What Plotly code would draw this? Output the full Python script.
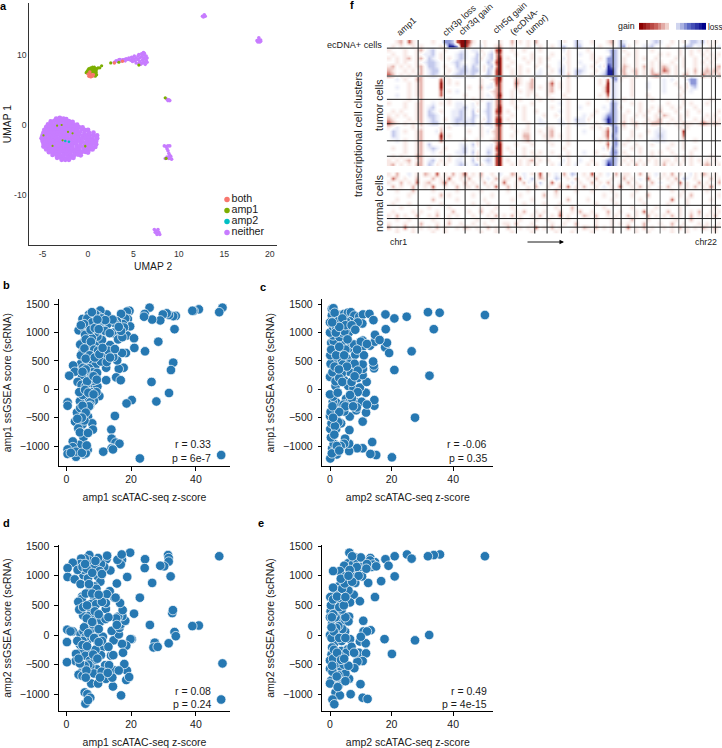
import plotly.graph_objects as go

W, H = 722, 748

# ---------- panel a: UMAP ----------
neither_pts = [
(-3.5,0.9),(-3.1,1.0),(-2.7,0.9),(-2.4,0.85),
(-4.1,0.5),(-3.7,0.6),(-3.3,0.5),(-2.9,0.6),(-2.5,0.5),(-2.1,0.55),(-1.7,0.45),
(-4.4,0.1),(-4.0,0.15),(-3.6,0.05),(-3.2,0.15),(-2.8,0.1),(-2.4,0.05),(-2.0,0.15),(-1.6,0.1),(-1.2,0.05),
(-4.6,-0.3),(-4.2,-0.25),(-3.8,-0.35),(-3.4,-0.3),(-3.0,-0.25),(-2.6,-0.35),(-2.2,-0.3),(-1.8,-0.25),(-1.4,-0.35),(-1.0,-0.3),(-0.6,-0.35),
(-4.8,-0.7),(-4.4,-0.65),(-4.0,-0.75),(-3.6,-0.7),(-3.2,-0.65),(-2.8,-0.75),(-2.4,-0.7),(-2.0,-0.65),(-1.6,-0.75),(-1.2,-0.7),(-0.7,-0.65),(-0.3,-0.75),(0.0,-0.7),
(-4.9,-1.1),(-4.5,-1.05),(-4.1,-1.15),(-3.7,-1.1),(-3.3,-1.05),(-2.9,-1.15),(-2.5,-1.1),(-2.1,-1.05),(-1.7,-1.15),(-1.3,-1.1),(-0.9,-1.05),(-0.4,-1.15),(0.1,-1.1),(0.6,-1.1),
(-5.0,-1.5),(-4.6,-1.45),(-4.2,-1.55),(-3.8,-1.5),(-3.4,-1.45),(-3.0,-1.55),(-2.6,-1.5),(-2.2,-1.45),(-1.8,-1.55),(-1.4,-1.5),(-1.0,-1.45),(-0.6,-1.55),(-0.2,-1.5),(0.2,-1.45),(0.6,-1.55),(1.0,-1.5),
(-5.1,-1.9),(-4.7,-1.85),(-4.3,-1.95),(-3.9,-1.9),(-3.5,-1.85),(-3.1,-1.95),(-2.7,-1.9),(-2.3,-1.85),(-1.9,-1.95),(-1.5,-1.9),(-1.1,-1.85),(-0.7,-1.95),(-0.3,-1.9),(0.1,-1.85),(0.5,-1.95),(1.0,-1.9),
(-5.0,-2.3),(-4.6,-2.25),(-4.2,-2.35),(-3.8,-2.3),(-3.4,-2.25),(-3.0,-2.35),(-2.6,-2.3),(-2.2,-2.25),(-1.8,-2.35),(-1.4,-2.3),(-1.0,-2.25),(-0.6,-2.35),(-0.1,-2.3),(0.3,-2.25),(0.7,-2.35),(0.9,-2.3),
(-4.9,-2.7),(-4.5,-2.65),(-4.1,-2.75),(-3.7,-2.7),(-3.3,-2.65),(-2.9,-2.75),(-2.5,-2.7),(-2.1,-2.65),(-1.7,-2.75),(-1.3,-2.7),(-0.8,-2.65),(-0.3,-2.75),(0.1,-2.7),(0.5,-2.65),(0.9,-2.75),
(-4.9,-3.1),(-4.5,-3.05),(-4.1,-3.15),(-3.7,-3.1),(-3.3,-3.05),(-2.9,-3.15),(-2.5,-3.1),(-2.1,-3.05),(-1.7,-3.15),(-1.2,-3.1),(-0.9,-3.05),(-0.5,-3.15),(0.0,-3.1),(0.4,-3.05),(0.8,-3.15),
(-4.6,-3.5),(-4.2,-3.45),(-3.8,-3.55),(-3.4,-3.5),(-3.0,-3.45),(-2.6,-3.55),(-2.2,-3.5),(-1.8,-3.45),(-1.4,-3.55),(-1.0,-3.5),(-0.5,-3.45),(-0.1,-3.55),(0.2,-3.5),(0.5,-3.5),
(-4.3,-3.9),(-3.9,-3.85),(-3.5,-3.95),(-3.1,-3.9),(-2.7,-3.85),(-2.3,-3.95),(-1.9,-3.9),(-1.5,-3.85),(-1.1,-3.95),(-0.7,-3.9),(-0.3,-3.85),(0.0,-3.95),
(-3.9,-4.3),(-3.5,-4.25),(-3.1,-4.35),(-2.7,-4.3),(-2.3,-4.25),(-1.9,-4.35),(-1.5,-4.3),(-1.1,-4.25),(-0.8,-4.35),
(-3.4,-4.7),(-3.0,-4.65),(-2.6,-4.75),(-2.2,-4.7),(-1.8,-4.65),(-1.6,-4.7),
(-2.9,-5.0),(-2.5,-5.0),(-2.1,-5.0),
]
neither_other_pts = [
(2.9,9.0),(3.1,9.2),(3.3,9.1),(3.5,9.4),(3.7,9.2),(3.4,9.35),(3.8,9.35),(4.0,9.4),(4.2,9.5),(4.4,9.4),(4.1,9.2),(4.5,9.6),(4.7,9.3),
(4.8,9.7),(4.9,9.1),(5.0,9.5),(5.1,9.9),(5.2,9.2),(5.3,9.6),(5.3,8.9),(5.5,9.4),(5.5,9.9),(5.6,8.8),(5.6,10.1),(5.7,9.6),(5.7,9.1),
(5.8,8.7),(5.9,9.8),(5.9,10.2),(6.0,9.3),(6.0,8.9),(6.1,9.6),(6.1,10.4),(6.2,9.0),(6.2,10.0),(6.3,9.5),(6.3,8.7),(6.4,9.9),(6.4,9.3),(6.5,9.0),(6.5,9.6),(6.2,10.3),
(12.6,15.6),(12.8,15.8),(12.9,15.6),(12.7,15.5),(18.6,12.1),(18.8,12.5),(19.0,12.2),(18.7,11.9),(18.9,11.9),(19.0,12.0),(18.8,12.2),
(8.7,3.7),(8.9,3.6),(9.0,3.5),(8.8,3.5),(8.4,-3.0),(8.6,-3.1),(8.8,-3.0),(9.0,-3.0),(8.7,-3.4),(8.8,-3.7),(8.9,-4.1),(9.0,-4.4),(8.7,-4.6),(9.1,-4.5),(8.9,-4.8),(9.2,-4.9),(8.5,-4.8),
(7.3,-15.0),(7.5,-15.2),(7.7,-15.0),(7.6,-15.5),(7.8,-15.4),(7.4,-15.4),(7.9,-15.7),(7.6,-15.7),
]
amp1_pts = [
(-0.2,7.5),(-0.1,7.7),(0.0,7.4),(0.0,7.9),(0.1,7.6),(0.1,8.1),(0.2,7.9),(0.3,8.2),(0.3,7.5),(0.4,8.0),(0.5,8.3),(0.5,7.7),(0.6,8.1),(0.7,7.5),(0.7,7.9),(0.8,8.1),(0.8,7.4),(0.9,7.8),(0.8,7.0),(1.0,8.1),(1.1,8.2),(1.3,8.2),(1.5,8.5),
(0.0,7.65),(0.2,7.7),(0.4,7.6),(0.6,7.7),(0.3,7.85),(0.5,8.05),(0.7,8.3),(0.9,7.5),(0.95,7.2),(0.85,7.65),
(2.5,8.9),(3.4,9.0),(5.6,8.6),(8.5,3.9),(8.6,-4.8),
]
amp1_speck_pts = [(-2.9,0.0),(-4.9,-1.5),(-3.9,-3.0),(-2.2,-1.0),(-2.8,-2.2),(-1.7,-1.2),(-0.3,-3.1),(-3.4,-0.1),(-0.3,-3.0)]
amp2_pts = [(-2.5,-2.3),(-2.1,-2.4)]
both_pts = [(0.0,7.3),(0.1,7.0),(0.2,7.2),(0.3,6.9),(0.4,7.2),(0.5,7.0),(0.6,7.2),(0.2,7.6),(2.9,8.9),(3.8,9.15)]

key_names = ["both", "amp1", "amp2", "neither"]
key_colors = ["#F8766D", "#7CAE00", "#00BFC4", "#C77CFF"]
key_rows = [3, 2, 1, 0]
a_xticks = [-5, 0, 5, 10, 15, 20]
a_xlabels = ["-5", "0", "5", "10", "15", "20"]
a_yticks = [-10, 0, 10]
a_ylabels = ["-10", "0", "10"]

# ---------- panels b-e: (z-score, ssGSEA score) ----------
b_pts = [(48.2,1440),(47.2,1360),(40.9,1410),(39.3,1385),(38.9,1385),(33.8,1295),(33,1290),(31.7,1310),(31,1340),(29.8,1320),(29,1215),(26.5,1230),(25.7,1440),(24.2,1330),(24,1280),(19.5,1385),(18.7,1370),(19,1240),(18.7,1130),(19.7,1110),(18.2,1250),(17.5,1150),(16.9,1330),(15.6,1200),(14.9,1170),(14.7,1000),(15.5,950),(16.2,900),(18.7,950),(20.9,900),(21,730),(24.3,670),(28.4,840),(33.4,1060),(18.4,640),(17.2,640),(33,470),(32.3,340),(26.3,130),(31.7,-65),(27.8,-215),(20.2,-190),(18.6,-250),(17.7,380),(16.2,360),(15.7,510),(15.4,210),(16.8,160),(12.3,160),(12.3,380),(11.8,600),(13.5,780),(13,680),(14.5,570),(12.5,1320),(12.7,1150),(11.2,1000),(10.5,1390),(9.9,1290),(10.2,1200),(8.5,1270),(7,1320),(5.8,1200),(5,1240),(4.4,1050),(3.8,1040),(5.9,1050),(6.3,1130),(8,1090),(9.2,1160),(10.5,1110),(6.8,840),(5,820),(4.3,790),(6.5,760),(8,750),(9.4,830),(11,870),(9.6,930),(5,650),(6.5,640),(4.5,450),(6.5,470),(8,500),(9,420),(10.7,490),(7,370),(8.2,300),(9.5,290),(6,240),(7,240),(4.8,250),(2.1,420),(2.6,310),(0.9,240),(3.5,130),(4.7,80),(6,60),(7.3,90),(8.8,30),(9.6,50),(10.2,-120),(7.7,-50),(6.4,-140),(5.5,-180),(8.5,-200),(4.2,-210),(7.4,-230),(7.3,-290),(4.3,-410),(3.3,-410),(6.7,-480),(2.7,-570),(8,-600),(5,-620),(3.7,-690),(8.2,-710),(5.3,-850),(13.9,-710),(14,-870),(15.2,-940),(16.4,-960),(14,-1040),(14.4,-1060),(11.4,-1100),(6.6,-1070),(5.5,-1150),(4,-980),(2,-920),(2,-1020),(0.4,-1060),(0.4,-1140),(3,-1190),(6,-1130),(22.7,-1220),(47.8,-1160),(15,-470),(0.4,-230),(0.4,-290),(4.5,600),(5.2,380),(6,350),(8.5,150),(7.5,180),(9,1000),(7.2,960),(5.8,960),(7.9,900),(9,1320),(6.5,1250),(8,1180),(11,1050),(12,1030),(13.4,990),(4.3,-330),(5,-100),(4,-50),(9.3,-50),(6.3,-350),(7,-300),(5.6,-550),(16,880),(17.3,920),(14.3,1230),(17.8,1090),(16.9,1030),
(5.5,1150),(7.5,1050),(8.8,1080),(10,1060),(6,880),(7.6,840),(8.6,700),(5.6,720),(9.8,680),(7.2,600),(6,540),(8.8,560),(10.2,620),(5,310),(6.4,140),(8.4,230),(9.4,170),(5.8,-10),(6.8,-60),(8.4,-90),(5,-290),(6,-410),(4.8,-500),(3.4,-520),(4.2,-760),(6.7,-770),(3,-1100),(1.4,-1120),(4.8,-1120),(6.3,-990),(11,1250),(12,1220),(7.9,1360),(4.5,1130),(9.6,1230),(11.2,730),(12.5,480),(13.5,560),(15,710),(16.2,1100)]
c_pts = [(50.3,1310),(35.6,1350),(31.8,1360),(33.7,1060),(24.9,1280),(20.9,1250),(18,1320),(18.1,1060),(17.9,740),(18.5,820),(19.2,640),(26.5,670),(20.9,340),(32.3,240),(27.6,-500),(20.1,-1200),(15,-1160),(13.1,-1140),(13.7,-930),(10.6,-1040),(8.8,-1040),(6.2,-1090),(6.2,-960),(4.9,-870),(4.6,-960),(2.2,-1150),(0.7,-1040),(0.1,-1220),(1.2,-960),(0.3,-850),(0.1,-700),(0.5,-600),(2,-700),(3.6,-600),(6.3,-720),(10.6,-570),(0,-470),(0.2,-400),(6.4,-480),(11.7,-410),(14.4,-290),(14.4,-190),(11.6,-60),(8.6,-230),(7.5,-230),(5.2,-170),(3.7,-290),(2,-230),(0.9,-220),(1,-130),(0,-90),(4.6,-390),(8.5,-370),(10.3,-220),(1.8,60),(0,220),(4.6,160),(5.9,60),(7.6,20),(9.7,30),(9,200),(11.9,130),(10.6,250),(10.7,360),(10.6,440),(14.3,370),(14.2,420),(14,490),(7.2,520),(6.3,310),(3.8,280),(2.6,510),(0.9,480),(1.1,650),(2,800),(0.2,450),(1.1,300),(3.9,650),(5.4,550),(6,720),(8.2,610),(7.8,790),(10.6,860),(10.8,760),(13,770),(14.6,840),(14.6,960),(16.1,870),(2,770),(3.7,780),(5,700),(0.4,820),(1.2,850),(1,950),(3.1,920),(4,1000),(0,1000),(2.7,1040),(1,1100),(1.2,1240),(0.6,1300),(0.6,1420),(1.1,1430),(3,1310),(4.6,1330),(5.8,1350),(6.8,1360),(7.9,1300),(9.5,1280),(10.7,1320),(12.8,1330),(14.1,1220),(10.5,1160),(6.4,1200),(5.3,1190),(5.9,1110),(6.1,1000),(3.5,1170),(2,1090),(9,1180),(0,1180),(1.8,140),(2.5,-60),(6,-240),(2,-520),(2.7,-580),(1.6,-650),(1.5,-1100),(0.6,-1130),(3.5,-1000),(0.8,300),(3,200),(4.2,440),(6.5,450),(8,450),(9,-50),(7.1,-160),(10,840),(4.7,1020),(0.1,600),(0.4,700),(12,-270),(8.7,-320),(4.4,-270),
(1.5,1350),(2.6,1200),(4,1250),(5,1130),(7,1130),(8.2,1050),(1.9,1000),(3,1100),(0.7,1180),(2,600),(3,750),(4.6,600),(5.5,400),(1.5,400),(2.9,350),(4,130),(7,130),(5,-300),(3,-400),(1,-500),(1.4,-800),(2.2,-1000),(3,-1080),(0.8,-300),(7.5,-300),(6.5,-100),(9,330),(8,230),(11,600),(12,800),(8.8,700),(5.7,880)]
d_pts = [(47.2,1330),(48.2,-480),(47.8,-1090),(40.9,160),(38.9,150),(33.4,50),(33.8,-20),(32.7,370),(32.9,420),(31.6,-140),(31.4,1350),(31.6,1300),(31.6,1240),(32.2,990),(30.2,1160),(29,1170),(26.5,880),(25.8,170),(27.3,-130),(26.9,-210),(28.2,-200),(24.3,1280),(24.2,1130),(22.7,630),(19.7,1390),(18.8,980),(20.9,360),(20.2,-70),(19.8,-70),(18.5,-180),(17.2,-150),(18.7,-600),(18.5,-760),(19.4,-710),(17.9,-490),(16.9,-1020),(14.4,-870),(12.2,-740),(15,-600),(16.2,-600),(14.2,-720),(13.8,-350),(14.5,-340),(14.6,-90),(16.2,10),(14,70),(16.4,120),(16.8,180),(18.2,240),(17.3,320),(16,310),(15.4,280),(17.4,420),(16.6,540),(14.8,630),(15.6,870),(13.4,740),(12.5,690),(13.6,1090),(12.4,1280),(12.6,1340),(11.7,1150),(10.7,1200),(9.8,1300),(8.7,1170),(7.1,1350),(6.9,1260),(5.7,1290),(4.6,1290),(4.3,1200),(2,1220),(0.4,1130),(0.4,980),(2.6,940),(4.4,860),(5.3,1010),(6.7,960),(9.7,990),(10.3,1080),(10.5,900),(8.7,820),(7.3,760),(9.3,780),(4.9,650),(4.8,610),(8.6,640),(7.5,520),(9.2,520),(7.7,390),(5.2,330),(6.5,190),(7,320),(9,300),(10.6,230),(12.1,270),(12.2,440),(12.2,540),(11,560),(2,60),(0.3,90),(1.3,60),(0.2,-120),(4.4,10),(5.3,60),(6.4,-110),(7.7,100),(9.7,-40),(11.3,-30),(11.2,-200),(7,-270),(4.6,-260),(3,-320),(5.9,-350),(7.3,-430),(2.9,-440),(0.2,-460),(4.7,-630),(3.8,-670),(5,-690),(8.8,-420),(9.4,-580),(12,-510),(10.7,-340),(7.4,-530),(8.5,-650),(7.7,-820),(9.8,-820),(5.7,-970),(6.5,-1000),(7.4,-1060),(5.9,-1160),(6.7,-1100),(15.2,630),(17.2,1270),(16.8,1190),(15.8,1270),(17.1,1360),(5.5,1100),(3.7,560),(4,430),(5.2,470),(6,-30),(4.2,-160),(5,-100),(8.2,180),(9.5,-100),(10,100),(13,300),(6.8,-500),(9,-250),(5.7,-520),(3.4,-100),(11,-100),(13.2,-510),(10.9,-620),
(3.5,1100),(5,1150),(6.3,1120),(8,1050),(9,1250),(11,1030),(7,860),(6,700),(8,700),(10,680),(6.4,500),(8.8,400),(10,350),(6.3,280),(8,220),(5.5,130),(6.8,30),(8.6,-50),(5,-170),(6.4,-190),(8.3,-330),(10,-120),(9.6,-400),(6.2,-600),(4.2,-480),(3.8,-400),(6,-720),(10.4,-720),(12.8,-640),(13,-200),(15.6,170),(17.5,-300),(5.8,1200)]
e_pts = [(50.3,1330),(35.7,1360),(33.7,1350),(31.8,1330),(25,1360),(26.5,1290),(21,1330),(18,1280),(19,1170),(21,990),(16.6,910),(12.4,880),(13.1,1300),(14.6,1230),(13.6,1150),(11.3,1240),(8.2,1310),(6.3,1390),(5.8,1210),(4.6,1170),(3.2,1080),(1,1080),(7.5,1200),(9,1240),(10,1150),(8,1080),(5,990),(7.5,980),(10.4,990),(8.2,880),(5.6,800),(3,830),(2,760),(1.5,700),(0.1,640),(14.6,640),(7.7,680),(4,590),(9.7,570),(6.5,550),(0.8,440),(2,520),(3.5,490),(0.2,400),(2,400),(4,350),(6.2,310),(0,300),(0.7,190),(3,250),(5,230),(10.8,240),(13.2,80),(10.9,60),(12,60),(4.9,60),(2,0),(0,0),(6.5,-70),(17.7,-70),(27.6,-90),(32.2,0),(20.1,-320),(9.7,-110),(11.6,-140),(1.5,-130),(0.7,-210),(3.7,-270),(5.8,-240),(5.3,-300),(9.4,-300),(11.7,-310),(10.6,-440),(8.9,-450),(7.9,-560),(0.5,-330),(0,-430),(0,-570),(1.7,-620),(3.7,-550),(4,-680),(6.2,-740),(3,-730),(0.4,-770),(0,-820),(9.9,-830),(2.8,-860),(1.8,-970),(6.7,-1000),(3.2,-1020),(0.8,-1090),(1.4,-1170),(10.6,-1060),(12.2,-1080),(5,-650),(2,-480),(1.5,-380),(3.8,-100),(1.5,100),(4,100),(2.7,150),(6,230),(0.3,500),(1.8,300),(3,600),(6,750),(4.4,-500),(1.3,-250),(3.2,-350),(2.7,-680),(0.8,-620),(0.5,-50),(2.2,-700),(8,-310),(2,120),(13,1260),(14,1190),(10,1310),(7.2,1330),(9.3,1000),(12,1200),(3.9,780),(1,600),(5,300),(1.1,350),
(1,800),(0.6,300),(2.3,650),(3.8,430),(1.2,60),(0.5,130),(3,-50),(5,-50),(7,-200),(1,-400),(2.3,-300),(0.7,-520),(3.6,-420),(5,-780),(6,-520),(4.8,870),(7.2,900),(8.7,1150),(6.4,1100),(11.8,1120),(15,1160),(2.5,-880),(4.6,-400),(10,-30),(7.8,-300),(3,470),(4.5,500),(5,640),(3.5,950),(6,1000)]
score_ticks = [-1000, -500, 0, 500, 1000, 1500]
z_ticks = [0, 20, 40]

# ---------- panel f: copy-number heatmap, hand-read per cell ----------
# . = none, a-d = gain strength 1-4, w-z = loss strength 1-4
tumor_rows = [
"..ab.ca... .a..yyxcdd ca..a...a. .b.a.a.b.. ...wa..xw. .a...ab.xw ..a...wxw. .a..a.xxwx a.a.",
".a.a..a.a. ...a.zzydd b..wa..ab. .a...a..a. .a.wx..xx. ...a..a.xy a...wwx... a...wxx.w. .a.w",
"a...a..ab. wx..a...ww .wwa..wcd. .a..a...a. ....wa.... a....wyx.a ..a...a... ...a..a.a. a...",
".a..a..a.w wx.a...wxw ..x.awxbc. ..a...a... .a...a..w. .a....yx.. a.a.....a. a..a..a..a .a.a",
"a.a.ab.ab. xw.a.a.wxw .wxa.wxbd. a...a.a.a. a...wa.... .a.a.yyx.a ..a.a..a.. ..a.a..a.. a.a.",
"..a.a..a.w xxw...wxw. .wx..xwcd. .a...a..a. ...w.a..w. ..a..yyx.a ..a...a.a. .a..a..a.a .a..",
"ab.a.a.ab. xxw.a..xwx .xw.awxbd. a..a...a.. a..wwa...w .a.wazyx.b a.a.b.a.ab a.a.a..a.. a.ab",
"ba..a.a.b. wxx..a.wxx wxx.axwcd. .a.a.a..w. .a.xwa.xxw ..a.wzzxab .ab.a.b.ac b.a..a.b.a baba",
"cb.a.a.ab. wxw.a.wxxw wx..wxwcd. .a.a...ww. a..wwb.xw. .a.wxzzx.b a.b.a.bcb. a.a.bb.a.c ab.b",
"..w.a..bb. ...c.a.... ...a..acd. ..ba..b... .a...a.... ...a.cxya. .a.......w .w...wyy.. ....",
".....a.ab. ...d.a.a.. ...a..wcc. ..ca.ab... ac.a.a.... ...a.dxw.. .a...w...w ..a..ayy.. ....",
"..w..a.ab. ...d...... a..b.wwbc. ..b..ab.a. ab.a.a.... ....adxw.. .a...w...w ...a.awx.. ....",
".....a.ab. ...c.a.w.. ...a..abc. .a.a.aa... ab...a.... ....adxw.. .a.......w ....a.w... ....",
"..w..a.ab. ...c.....a ...a.w.bd. .a...a.a.. a...a..... ...a.cxw.. .a...a.... ...a...... ....",
".....a..b. .....a.... .a.a..wbc. .a.a....a. .a...a.... .....axw.a ......a... ....a..... .a..",
"a...a..ab. .w.a.a.ww. .wa..xwbc. .a....a... ...w.a.... a.....yx.. .a.a...... a...a.a... a...",
"....a..ab. wx.....wwx .w...xwbd. ..a.a..... .a...a..w. ....w.yxa. ...a..a.a. .a.a...a.. ....",
".a.a...ab. xw.a..wwxw .xa.wxwcd. a...a..a.. ...w.a.... ..a..wyx.. a..a.a..b. ..a..a..a. ...a",
"a.a.a..ab. xxw...wwxw .xw..xwbc. .a..a....a ..a..a...w .a..wyyx.a ..a.a..a.b a..a.a.... a.a.",
"ba...a.ab. wxw.a.wxxw wx..axwcd. a...a...w. ...w.a.xww a...xzyx.a .a...a.ab. .a.a...a.a .a.a",
"cba.a.a.b. wxx...wxwx wx.awxwcd. .a...a..ww ...wwa.www ..a.wzyxab .ab.a.bbb. a.a.baa.ac baba",
"a.w...a.a. ...a.a.... ...a..wbc. .a...a.... aa...a.... .a.a.bxy.a ..a.....w. ...a.a.... ....",
".xw.a..ab. ..wb...... a..a.wabc. ..a.aa..a. ab...a...w ....acxy.. .a...a.www ....d..... ....",
".xw....ab. ...d.a.... ...a...bc. .a..bb...a ab.a.a.... ....acyx.. .a.a...wxw ....c..... ....",
"..w.a..ab. ...c.....a ..a...abc. ....ab.... a....a.... ...a.bxy.. a.....wwww ....a..a.. ....",
"....a..ab. x.......ww .xa...wbd. ..a...a... .a...a.... .....cxy.a ..a...a... .a..a..... ....",
".a..a..ab. wxw.a...wx .w...wwcd. a...a..... ....a..... ....wbyx.. .a.a...... a...a..a.. ....",
"....a..ab. .w.a...wwx .xa..xwbd. .a..a.a.a. .a...a...w ..a...yy.a ...a..a.a. .a....a... ....",
".a.a...bb. .....a..w. .wa..wwcd. ....a..a.. ...a.a.... ....a.yx.. a.....a... ..a.a.a... .a..",
"a.a.ab.ab. wx.a.a.ww. .xa.wxwcd. a..a.ab.a. a...wa..w. .a..wyyx.a .a.a.a.a.a a.a.a.a.a. a.a.",
"ab.a.a.bb. xwa.a..wxw .wxa.wwcd. .a.a.a.a.. .a.w.a.w.. a.a.wzyxa. a.b.a..a.b .a.a..a..a ba.a",
]
normal_rows = [
"a.b..w.a.b a.c.a.b.ac .a.b..a.w. .ba.w.a.c. a.w.b.xw.a .c.a.w.b.a a..b.a.w.a .b.a..wa.b a.a.",
".ca.a..b.. .b.a.c..a. b..a.w.b.a a..cw.x.ba ..xw.a.b.. a.b...a..b .a.w.c..a. a.b.xw.a.. .b.a",
"a..b.a.c.a b..ac.a..b .a..b.a..c ..a.bw.ax. .c.a..w.a. .b.a.b..a. b.a...b.w. .a.c.a..b. a..b",
".b.a..b..a .c..a..b.a a.b..a.c.. b.a..a.b.. a..b.c.a.b ..a.w.a.c. .a.b.a..a. b..a.a.b.a .c..",
"..a...b... .a.....a.. ...a...... a....a.... ..b....a.. .a....a... ..a....... .a..a..... a...",
".....a.... ...b.a.... .a....a... ...a.....b ..a....... ....a..a.. .a...b.... ...a..b... ...a",
"..a....... .b.....a.. ....a..... .a....a... .....b.... a.....a... ...a...... .c...a.... .a..",
".a...a.... ...a...... .a...a.... ....a....a ...a...... ..a....a.. ....a..... a....a.... ....",
"...a...... a....a.... ...a...a.. .a........ ..a...b... ....a..... .a.....a.. ...a...... ..a.",
".a....a.a. ..a...b... a..b..a... ..a.b..a.a ...b..a.b. .a...b..a. ..a.c.a... b..a..a.b. .a.a",
"a.b.a..b.. a.b..a.a.. .a...a.b.a .b.a..a.b. .a.c.a...b a.b..a.a.. b.a..b.a.a .b.a..b.a. a.b.",
"..a..a.... .a...a.... ..a...a... ...a...a.. a....a.... ..a...a... .b...a.... ..a...b... ....",
"a...a...b. ..a..b..a. .a..a....a a.b...a... .a..a..b.. ..a...a.a. a...b...a. .b..a...a. a..a",
"b.a.c.a.a. a.b.a..a.b a.a..b.a.. b..a.a.c.a .b.a...a.b a.b.a.a... c.a.b.a..a .a.b.a.a.b a.b.",
"..a...a... .a..a..... ...a...a.. .a....a... ..a...a... .a....a... ..a..a.... .a...a.... ..a.",
]
n_cols = 84
chrom_bounds = [7.9, 14.5, 19.7, 23.5, 28.2, 32.6, 37.2, 40.3, 43.9, 47.9, 52.2, 56.9, 58.9, 62.3, 65.4, 68.7, 73.4, 75.0, 79.3, 81.6, 82.6]
grey_bounds = [23.5, 62.3, 68.7, 73.4, 81.6]
tumor_splits = [2, 8.9, 14.6, 20.6, 24.8, 28.6]
normal_splits = [4.25, 8.07, 11.3, 13.4]
scale_values = [4, 3.5, 3, 2.5, 2, 1.5, 1, 0.5, 0, 0, -0.5, -1, -1.5, -2, -2.5, -3, -3.5, -4]

LEVELS = {".": 0, "a": 1, "b": 2, "c": 3, "d": 4, "w": -1, "x": -2, "y": -3, "z": -4}
def decode(rows):
    out = []
    for r in rows:
        r = r.replace(" ", "").ljust(n_cols, ".")[:n_cols]
        out.append([LEVELS[c] for c in r])
    return out

FONT = "Liberation Sans"
TXT = "#1a1a1a"
heat_scale = [[0, "#1a1f94"], [0.125, "#8d97d8"], [0.25, "#c3c9ec"], [0.375, "#ebedf9"], [0.5, "#ffffff"],
              [0.625, "#f8e8e5"], [0.75, "#e6b4ad"], [0.875, "#c4544a"], [1, "#8b0a0a"]]
key_scale = [[0, "#00008b"], [0.25, "#5a68c4"], [0.45, "#d8dcf2"], [0.5, "#ffffff"],
             [0.55, "#f2d8d4"], [0.75, "#c8605a"], [1, "#8b0000"]]

def xdom(a, b): return [a / W, b / W]
def ydom(top, bot): return [1 - bot / H, 1 - top / H]

fig = go.Figure()
layout = dict(width=W, height=H, margin=dict(l=0, r=0, t=0, b=0, autoexpand=False), autosize=False,
              paper_bgcolor="white", plot_bgcolor="white", showlegend=False,
              font=dict(family=FONT, size=10.5, color=TXT))

# panel a
def pts(p): return [q[0] for q in p], [q[1] for q in p]
for name, col, data, sz in [("neither", key_colors[3], neither_pts, 4.8), ("neither", key_colors[3], neither_other_pts, 3.6),
                            ("amp2", key_colors[2], amp2_pts, 2.6), ("amp1", key_colors[1], amp1_pts, 3.2),
                            ("amp1", key_colors[1], amp1_speck_pts, 2.2), ("both", key_colors[0], both_pts, 3.4)]:
    x, y = pts(data)
    fig.add_trace(go.Scatter(x=x, y=y, mode="markers", name=name, xaxis="x", yaxis="y",
                             marker=dict(color=col, size=sz, line=dict(width=0))))
layout["xaxis"] = dict(domain=xdom(29.3, 277), range=[-6.46, 20.8], tickvals=a_xticks, ticktext=a_xlabels,
                       showline=True, linecolor="#333", linewidth=0.9, showgrid=False, zeroline=False, ticks="",
                       tickfont=dict(size=8.7, color="#333"), title=dict(text="UMAP 2", font=dict(size=10.3), standoff=5))
layout["yaxis"] = dict(domain=ydom(3, 245.3), range=[-17.26, 17.5], tickvals=a_yticks, ticktext=a_ylabels,
                       showline=True, linecolor="#333", linewidth=0.9, showgrid=False, zeroline=False, ticks="",
                       tickfont=dict(size=8.7, color="#333"), title=dict(text="UMAP 1", font=dict(size=10.3), standoff=0))
# key
fig.add_trace(go.Scatter(x=[0, 0, 0, 0], y=key_rows, mode="markers+text", text=key_names, textposition="middle right",
                         textfont=dict(size=10.7, color=TXT), marker=dict(color=key_colors, size=5.5),
                         xaxis="x2", yaxis="y2", cliponaxis=False))
layout["xaxis2"] = dict(domain=xdom(222, 272), range=[-1, 9], visible=False, anchor="y2", fixedrange=True)
layout["yaxis2"] = dict(domain=ydom(194, 238), range=[-0.5, 3.5], visible=False, anchor="x2", fixedrange=True)

# scatter panels
panels = [
 ("3", b_pts, (59, 230), (299.3, 466), (66.3, 3.24), (389.3, 0.0567), "amp1 scATAC-seq z-score", "amp1 ssGSEA score (scRNA)"),
 ("4", c_pts, (322.3, 493.3), (299.3, 466), (330, 3.08), (389.3, 0.0567), "amp2 scATAC-seq z-score", "amp1 ssGSEA score (scRNA)"),
 ("5", d_pts, (59, 230), (545, 711), (66.3, 3.24), (635, 0.0592), "amp1 scATAC-seq z-score", "amp2 ssGSEA score (scRNA)"),
 ("6", e_pts, (322.3, 493.3), (545, 711), (330, 3.08), (635, 0.0592), "amp2 scATAC-seq z-score", "amp2 ssGSEA score (scRNA)"),
]
for k, data, xp, yp, xs, ys, xt, yt in panels:
    x, y = pts(data)
    fig.add_trace(go.Scatter(x=x, y=y, mode="markers", xaxis="x" + k, yaxis="y" + k,
                             marker=dict(color="#2678B2", size=9.5, line=dict(color="white", width=0.7))))
    xr = [(xp[0] - xs[0]) / xs[1], (xp[1] - xs[0]) / xs[1]]
    yr = [(ys[0] - yp[1]) / ys[1], (ys[0] - yp[0]) / ys[1]]
    common = dict(showline=True, linecolor="black", linewidth=1.2, showgrid=False, zeroline=False, ticks="outside",
                  ticklen=3.5, tickwidth=1.1, tickcolor="black", tickfont=dict(size=10.5, color=TXT))
    layout["xaxis" + k] = dict(domain=xdom(*xp), range=xr, tickvals=z_ticks, anchor="y" + k,
                               title=dict(text=xt, font=dict(size=10.5), standoff=9), **common)
    layout["yaxis" + k] = dict(domain=ydom(*yp), range=yr, tickvals=score_ticks, anchor="x" + k, tickformat="d",
                               ticklabelstandoff=3, title=dict(text=yt, font=dict(size=10.5), standoff=6), **common)

# heatmaps
heat_axis = dict(showgrid=False, zeroline=False, showticklabels=False, ticks="", showline=False)
fig.add_trace(go.Heatmap(z=decode(tumor_rows), x0=0.5, dx=1, y0=0.5, dy=1, xaxis="x7", yaxis="y7", zmin=-4, zmax=4,
                         colorscale=heat_scale, showscale=False, zsmooth="best"))
fig.add_trace(go.Heatmap(z=decode(normal_rows), x0=0.5, dx=1, y0=0.5, dy=1, xaxis="x8", yaxis="y8", zmin=-4, zmax=4,
                         colorscale=heat_scale, showscale=False, zsmooth="best"))
layout["xaxis7"] = dict(domain=xdom(386.7, 721), range=[0, n_cols], anchor="y7", **heat_axis)
layout["yaxis7"] = dict(domain=ydom(40, 166), range=[len(tumor_rows), 0], anchor="x7", **heat_axis)
layout["xaxis8"] = dict(domain=xdom(386.7, 721), range=[0, n_cols], anchor="y8", **heat_axis)
layout["yaxis8"] = dict(domain=ydom(172.3, 233.7), range=[len(normal_rows), 0], anchor="x8", **heat_axis)
fig.add_trace(go.Heatmap(z=[scale_values], x0=0.5, dx=1, y0=0.5, dy=1, xaxis="x9", yaxis="y9", zmin=-4, zmax=4,
                         colorscale=key_scale, showscale=False))
layout["xaxis9"] = dict(domain=xdom(639, 706), range=[0, len(scale_values)], anchor="y9", **heat_axis)
layout["yaxis9"] = dict(domain=ydom(22.7, 30), range=[0, 1], anchor="x9", **heat_axis)

shapes = []
for xa, ya, n_rows, splits in [("x7", "y7", len(tumor_rows), tumor_splits), ("x8", "y8", len(normal_rows), normal_splits)]:
    for b in chrom_bounds:
        shapes.append(dict(type="line", xref=xa, yref=ya, x0=b, x1=b, y0=0, y1=n_rows,
                           line=dict(color="#6b6b6b" if b in grey_bounds else "#1e1e1e", width=1)))
    for s in splits:
        grey = (xa == "x7" and s == 8.9)
        shapes.append(dict(type="line", xref=xa, yref=ya, x0=0, x1=n_cols, y0=s, y1=s,
                           line=dict(color="#7a7a7a" if grey else "#1e1e1e", width=1.6 if grey else 1)))
layout["shapes"] = shapes

# text
def note(text, px, py, size=10.5, xanchor="center", yanchor="middle", angle=0, bold=False, color=TXT):
    return dict(text=f"<b>{text}</b>" if bold else text, x=px / W, y=1 - py / H, xref="paper", yref="paper",
                showarrow=False, xanchor=xanchor, yanchor=yanchor, textangle=angle,
                font=dict(size=size, color=color, family=FONT))
ann = [note(t, x, y, 11, bold=True, color="black") for t, x, y in
       [("a", 3, 6), ("b", 6, 285), ("c", 262.5, 287), ("d", 6, 523), ("e", 260.5, 523), ("f", 351.5, 5)]]
for rt, pt, x, y1, y2 in [("r = 0.33", "p = 6e-7", 212.6, 444, 458), ("r = -0.06", "p = 0.35", 489, 444, 458),
                          ("r = 0.08", "p = 0.24", 212.6, 690.7, 704), ("r = 0.49", "p = 4e-15", 489, 690.7, 704)]:
    ann += [note(rt, x, y1, xanchor="right"), note(pt, x, y2, xanchor="right")]
for t, x, y in [("amp1", 407, 26), ("chr3p loss", 460, 20.5), ("chr3q gain", 476.3, 19.3), ("chr5q gain", 509.7, 18),
                ("(ecDNA-", 524, 21.7), ("tumor)", 536.7, 25)]:
    ann.append(note(t, x, y, 9, angle=-42))
ann += [note("ecDNA+ cells", 384, 44.7, 9.1, xanchor="right"),
        note("transcriptional cell clusters", 358, 135, 10.7, angle=-90),
        note("tumor cells", 379, 105, 10.7, angle=-90),
        note("normal cells", 379, 204, 10.7, angle=-90),
        note("chr1", 388, 242, 8.8, xanchor="left"),
        note("chr22", 719, 242, 8.8, xanchor="right"),
        note("gain", 637, 26.5, 8.8, xanchor="right"),
        note("loss", 705.5, 27, 8.2, xanchor="left"),
        dict(x=564 / W, y=1 - 242 / H, ax=-38, ay=0, xref="paper", yref="paper",
             text="", showarrow=True, arrowhead=2, arrowsize=1, arrowwidth=0.9, arrowcolor="black")]
layout["annotations"] = ann

fig.update_layout(**layout)
fig.write_html("out.html", post_script="document.body.style.margin='0';", config=dict(displayModeBar=False))
